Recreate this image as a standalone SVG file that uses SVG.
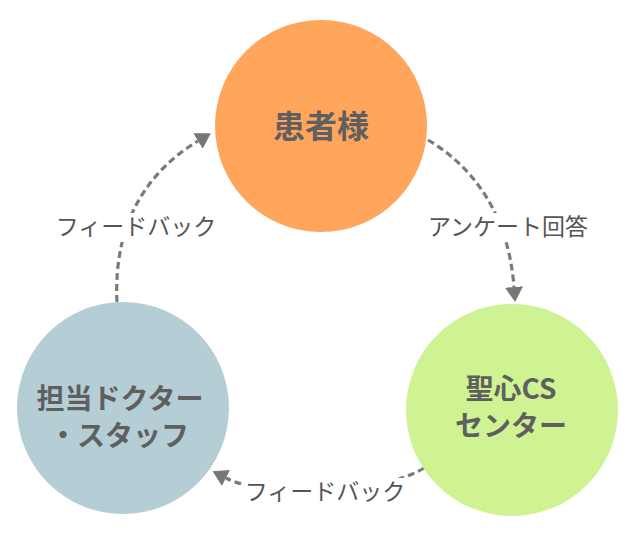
<svg xmlns="http://www.w3.org/2000/svg" width="640" height="538" viewBox="0 0 640 538">
<style>
.node-text{font-family:"Noto Sans CJK JP","Noto Sans",sans-serif;font-weight:bold;fill:#5f5f5f;text-anchor:middle}
.label{font-family:"Noto Sans CJK JP","Noto Sans",sans-serif;font-size:23px;fill:#555555;text-anchor:middle}
.conn{fill:none;stroke:#7a7a7a;stroke-width:3.2;stroke-dasharray:7 4}
.lbg{fill:#ffffff}
</style>
<defs>
<marker id="arrow" markerUnits="userSpaceOnUse" markerWidth="18" markerHeight="20" viewBox="0 -10 18 20" refX="0" refY="0" orient="auto">
<path d="M0,-9 L15,0 L0,9 z" fill="#777777"/>
</marker>
</defs>
<rect width="640" height="538" fill="#ffffff"/>
<g id="connectors">
<path class="conn" d="M428,140 C470,165 508,210 514,287" marker-end="url(#arrow)"/>
<path class="conn" d="M424,468 C380,495 270,500 226,478" marker-end="url(#arrow)"/>
<path class="conn" d="M117,302 C113,220 150,170 198,141" marker-end="url(#arrow)"/>
</g>
<g id="node-patient">
<circle cx="321" cy="126" r="106" fill="#ffa55c"/>
<text class="node-text" x="321" y="138" font-size="32">患者様</text>
</g>
<g id="node-cs">
<circle cx="512" cy="410" r="106" fill="#cff293"/>
<text class="node-text" x="511" y="399" font-size="28">聖心CS</text>
<text class="node-text" x="511" y="436" font-size="28">センター</text>
</g>
<g id="node-doctor">
<circle cx="123" cy="408" r="106" fill="#b5ced6"/>
<text class="node-text" x="120" y="409" font-size="28">担当ドクター</text>
<text class="node-text" x="119" y="446" font-size="28">・スタッフ</text>
</g>
<g id="label-survey">
<rect class="lbg" x="425" y="213" width="166" height="29"/>
<text class="label" x="508" y="235">アンケート回答</text>
</g>
<g id="label-feedback-left">
<rect class="lbg" x="56" y="213" width="160" height="29"/>
<text class="label" x="136" y="235">フィードバック</text>
</g>
<g id="label-feedback-bottom">
<rect class="lbg" x="245" y="478" width="162" height="29"/>
<text class="label" x="325" y="500">フィードバック</text>
</g>
</svg>
